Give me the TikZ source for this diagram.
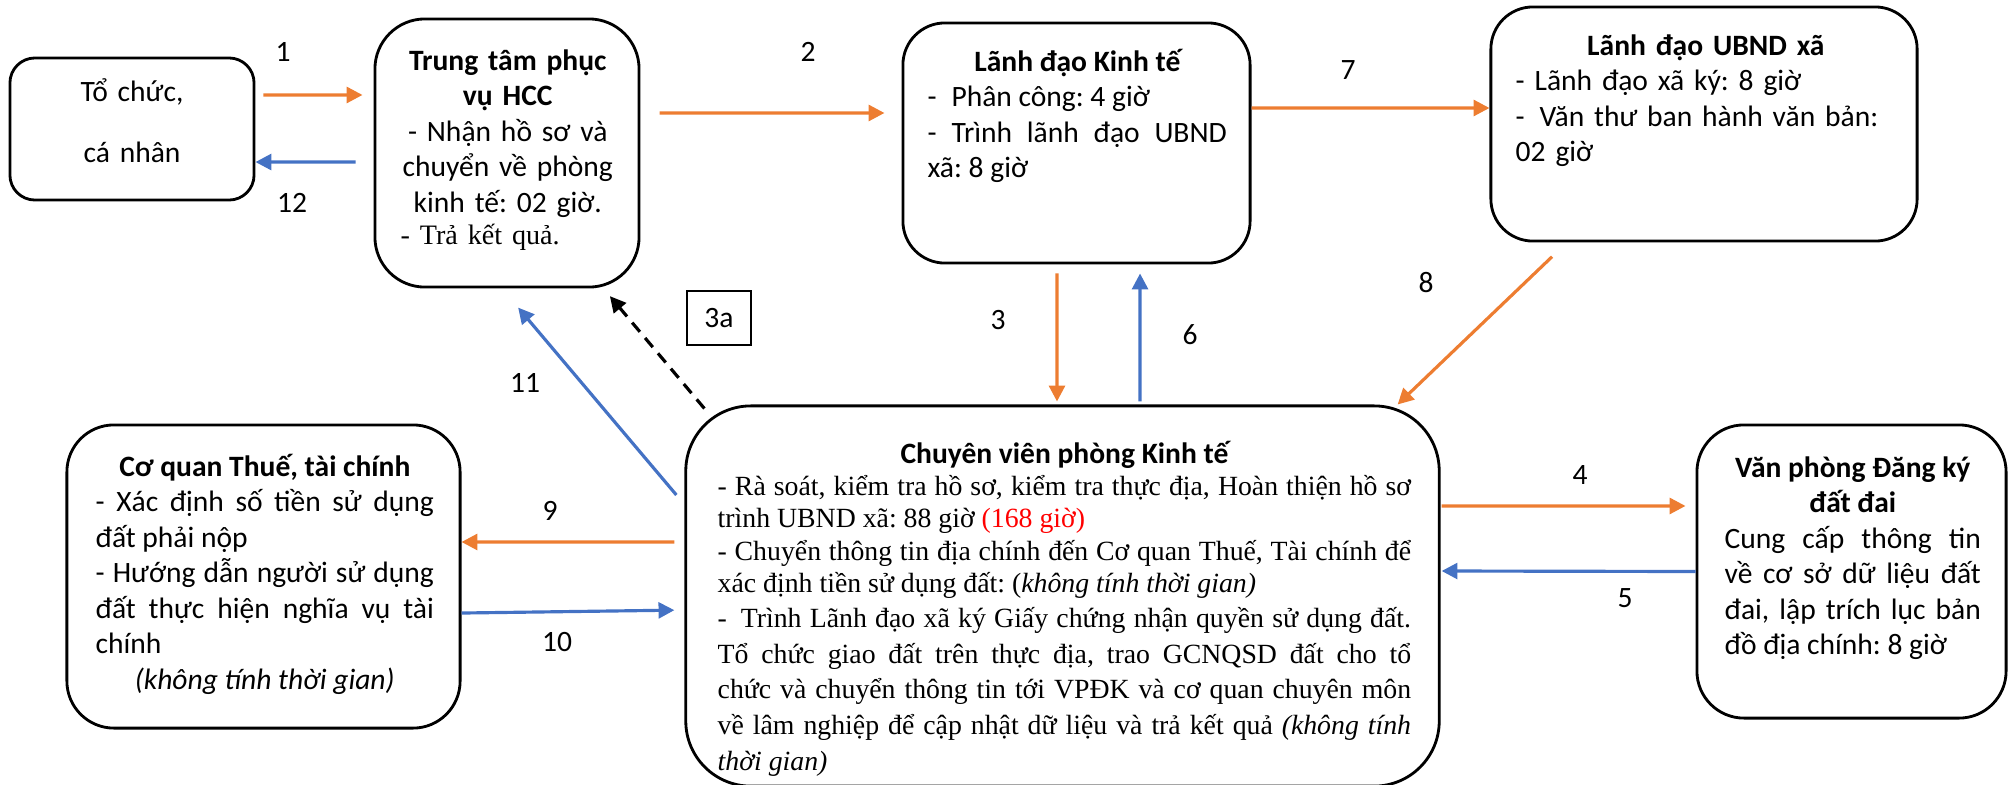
\documentclass[tikz,border=0pt]{standalone}
\definecolor{fwdorange}{HTML}{ED7D31}
\definecolor{backblue}{HTML}{4472C4}
\usepackage{fontspec}
\setmainfont{Carlito}
\newfontfamily\timesfont{Liberation Serif}
\usepackage{tikz}
\usetikzlibrary{arrows.meta}
\hyphenpenalty=10000
\exhyphenpenalty=10000
\frenchspacing

\tikzset{
  stepbox/.style={draw, line width=0.8pt},
  body/.style={inner sep=0pt, font=\fontsize{8.4}{10.1}\selectfont},
  num/.style={inner sep=0pt, font=\fontsize{8.4}{10.1}\selectfont},
  fwd/.style={fwdorange, line width=0.9pt, -{Triangle[length=4.5pt,width=4.5pt]}},
  back/.style={backblue, line width=0.9pt, -{Triangle[length=4.5pt,width=4.5pt]}},
}

\begin{document}
\begin{tikzpicture}[x=0.01cm, y=-0.01cm]
        \useasboundingbox (0,0) rectangle (2015,784);

        % boxes
        \node [stepbox, rounded corners=0.25cm, minimum width=2.44cm, minimum height=1.42cm]
          (org) at (132,129) {};
        \node [stepbox, rounded corners=0.5cm, minimum width=2.64cm, minimum height=2.68cm]
          (hcc) at (507,153) {};
        \node [stepbox, rounded corners=0.42cm, minimum width=3.47cm, minimum height=2.40cm]
          (ldkt) at (1076.5,143) {};
        \node [stepbox, rounded corners=0.42cm, minimum width=4.26cm, minimum height=2.34cm]
          (ubnd) at (1704,124) {};
        \node [stepbox, rounded corners=0.65cm, minimum width=7.53cm, minimum height=3.80cm]
          (cv) at (1062.5,596) {};
        \node [stepbox, rounded corners=0.47cm, minimum width=3.93cm, minimum height=3.03cm]
          (tax) at (263.5,576.5) {};
        \node [stepbox, rounded corners=0.47cm, minimum width=3.09cm, minimum height=2.93cm]
          (vp) at (1851.5,571.5) {};
        \node [draw, line width=0.6pt, minimum width=0.64cm, minimum height=0.54cm, inner sep=0pt,
          font=\fontsize{8.4}{10.1}\selectfont]
          (box3a) at (719,318) {3a};

        % box texts
        \node [body, anchor=base, text width=2cm, align=center, font=\fontsize{8.4}{17.6}\selectfont]
          (orgtext) at (132,101) {Tổ chức,\\ cá nhân};
        \node [body, anchor=base west, text width=2.14cm, align=center]
          (hcctext) at (400,70) {{\bfseries Trung tâm phục\\ vụ HCC}\\ - Nhận hồ sơ và\\ chuyển về phòng\\ kinh tế: 02 giờ.\par
            {\raggedright\timesfont\fontsize{8}{9.2}\selectfont - Trả kết quả.\par}};
        \node [body, anchor=base west, text width=2.99cm, align=justify]
          (ldkttext) at (927,71) {{\centering\bfseries Lãnh đạo Kinh tế\par}
            -\enspace Phân công: 4 giờ\par
            - Trình lãnh đạo UBND\linebreak xã: 8 giờ};
        \node [body, anchor=base west, text width=3.8cm, align=left]
          (ubndtext) at (1515,55) {{\centering\bfseries Lãnh đạo UBND xã\par}
            - Lãnh đạo xã ký: 8 giờ\\ -\enspace Văn thư ban hành văn bản:\\ 02 giờ};
        \node [body, anchor=base west, text width=6.93cm, align=justify]
          (cvtext) at (717,463) {{\centering\bfseries Chuyên viên phòng Kinh tế\par}
            \timesfont\fontsize{7.9}{9.2}\selectfont
            - Rà soát, kiểm tra hồ sơ, kiểm tra thực địa, Hoàn thiện hồ sơ\linebreak
            trình UBND xã: 88 giờ \textcolor{red}{(168 giờ)}\par
            - Chuyển thông tin địa chính đến Cơ quan Thuế, Tài chính để\linebreak
            xác định tiền sử dụng đất: (\textit{không tính thời gian)}\par
            -\enspace Trình Lãnh đạo xã ký Giấy chứng nhận quyền sử dụng đất.\linebreak
            Tổ chức giao đất trên thực địa, trao GCNQSD đất cho tổ\linebreak
            chức và chuyển thông tin tới VPĐK và cơ quan chuyên môn\linebreak
            về lâm nghiệp để cập nhật dữ liệu và trả kết quả \textit{(không tính\linebreak
            thời gian)}};
        \node [body, anchor=base west, text width=3.38cm, align=justify]
          (taxtext) at (95,476) {{\centering\bfseries Cơ quan Thuế, tài chính\par}
            - Xác định số tiền sử dụng\linebreak đất phải nộp\par
            - Hướng dẫn người sử dụng\linebreak đất thực hiện nghĩa vụ tài\linebreak chính\par
            {\centering\itshape (không tính thời gian)\par}};
        \node [body, anchor=base west, text width=2.56cm, align=justify]
          (vptext) at (1724,477) {{\centering\bfseries Văn phòng Đăng ký\\ đất đai\par}
            Cung cấp thông tin\linebreak về cơ sở dữ liệu đất\linebreak
            đai, lập trích lục bản\linebreak đồ địa chính: 8 giờ};

        % step numbers
        \node [num] (n1) at (283,52) {1};
        \node [num] (n12) at (292,203) {12};
        \node [num] (n2) at (808,52) {2};
        \node [num] (n7) at (1348,70) {7};
        \node [num] (n8) at (1426,283) {8};
        \node [num] (n3) at (998,320) {3};
        \node [num] (n6) at (1190,335) {6};
        \node [num] (n11) at (525,383) {11};
        \node [num] (n9) at (550,511) {9};
        \node [num] (n10) at (557,642) {10};
        \node [num] (n4) at (1580,475) {4};
        \node [num] (n5) at (1625,598) {5};

        % forward flow
        \draw [fwd, shorten <=0.08cm, shorten >=0.11cm] ([yshift=0.34cm]org.east) -- ([yshift=0.58cm]hcc.west);
        \draw [fwd, shorten <=0.19cm, shorten >=0.17cm] ([yshift=0.40cm]hcc.east) -- ([yshift=0.30cm]ldkt.west);
        \draw [fwd, shorten <=0.09cm, shorten >=0.03cm] ([xshift=-0.195cm]ldkt.south) -- ([xshift=-0.055cm]cv.north);
        \draw [fwd, shorten <=0.01cm, shorten >=0.10cm] ([yshift=0.9cm]cv.east) -- ([yshift=0.655cm]vp.west);
        \draw [fwd] ([yshift=0.35cm]ldkt.east) -- ([yshift=0.16cm]ubnd.west);
        \draw [fwd, shorten <=0.205cm] ([xshift=-1.37cm]ubnd.south) -- ([xshift=-0.43cm]cv.north east);
        \draw [fwd, shorten <=0.10cm] ([yshift=0.54cm]cv.west) -- ([yshift=0.345cm]tax.east);

        % return flow
        \draw [back, shorten >=0.01cm] (vp.west) -- ([yshift=0.25cm]cv.east);
        \draw [back, shorten <=0.03cm, shorten >=0.09cm] ([xshift=0.775cm]cv.north) -- ([xshift=0.635cm]ldkt.south);
        \draw [back, shorten >=0.10cm] ([yshift=-0.365cm]tax.east) -- ([yshift=-0.14cm]cv.west);
        \draw [back, shorten <=0.124cm, shorten >=0.25cm] ([yshift=0.915cm]cv.west) -- ([xshift=-0.05cm]hcc.south);
        \draw [back, shorten <=0.18cm] ([yshift=-0.09cm]hcc.west) -- ([yshift=-0.33cm]org.east);
        \draw [black, line width=0.9pt, dashed, dash pattern=on 3.4pt off 2.3pt, -{Triangle[length=4.5pt,width=4.5pt]},
          shorten >=0.10cm] ([xshift=0.2cm,yshift=-0.04cm]cv.north west) -- ([xshift=-0.37cm]hcc.south east);
\end{tikzpicture}
\end{document}
